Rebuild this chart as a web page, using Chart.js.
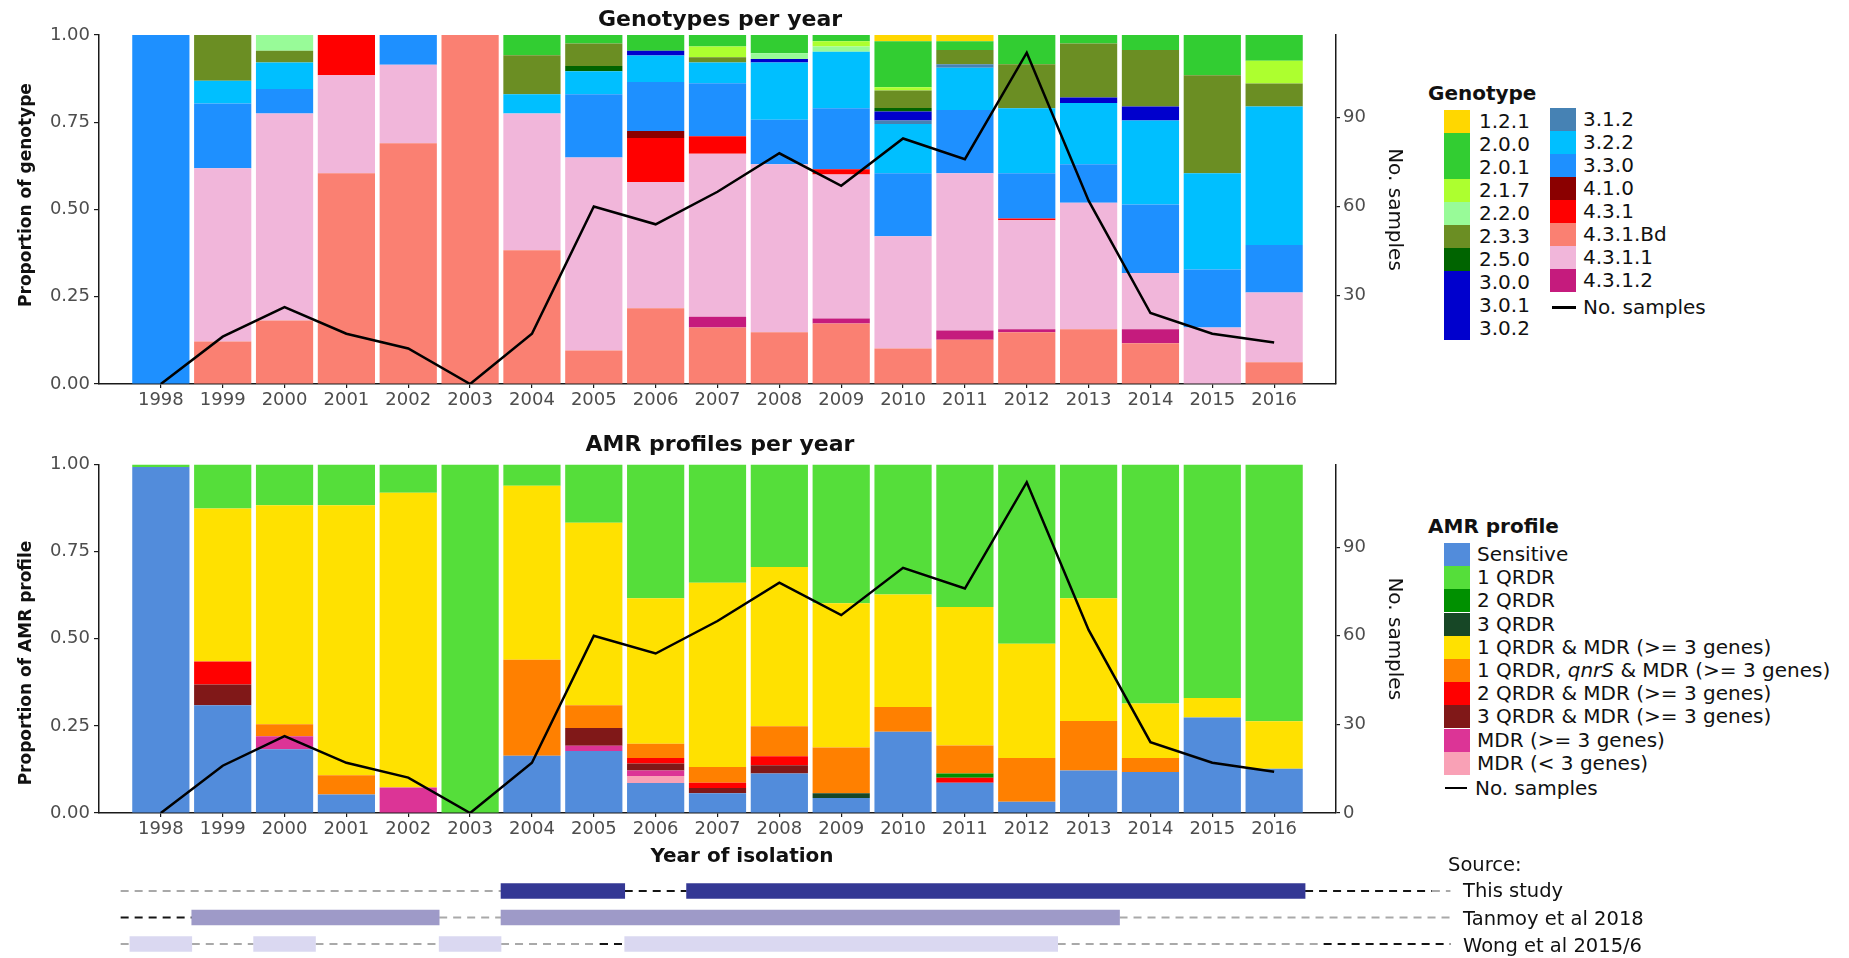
<!DOCTYPE html>
<html>
<head>
<meta charset="utf-8">
<title>Genotypes and AMR profiles per year</title>
<script src="https://cdn.jsdelivr.net/npm/chart.js@4/dist/chart.umd.min.js"></script>
<style>
  html, body { margin: 0; padding: 0; background: #fff; }
  body { width: 1849px; height: 958px; overflow: hidden; position: relative;
         font-family: "DejaVu Sans", sans-serif; color: #111; }
  canvas { position: absolute; left: 0; }
  .txt { position: absolute; white-space: nowrap; }
  .title { font-weight: bold; font-size: 22px; transform: translate(-50%, -50%); }
  .ytitle { font-weight: bold; font-size: 17px; transform: translate(-50%, -50%) rotate(-90deg); }
  .xtitle { font-weight: bold; font-size: 20px; transform: translate(-50%, -50%); }
  .lg { position: absolute; white-space: nowrap; font-size: 20px; height: 23px; line-height: 23px; }
  .lghead { position: absolute; white-space: nowrap; font-size: 20px; font-weight: bold; line-height: 24px; }
  .sw { position: absolute; width: 26px; height: 23px; }
  .ln { position: absolute; background: #000; }
  .src { position: absolute; white-space: nowrap; font-size: 19.5px; line-height: 24px; }
</style>
</head>
<body>

<canvas id="geno" width="1420" height="420" style="top:0"></canvas>
<canvas id="amr" width="1420" height="430" style="top:420px"></canvas>
<canvas id="source" width="1470" height="88" style="top:870px"></canvas>

<div class="txt title" style="left:720px; top:18px">Genotypes per year</div>
<div class="txt title" style="left:720px; top:443px">AMR profiles per year</div>
<div class="txt ytitle" style="left:25px; top:195px">Proportion of genotype</div>
<div class="txt ytitle" style="left:25px; top:663px">Proportion of AMR profile</div>
<div class="txt xtitle" style="left:742px; top:855px">Year of isolation</div>

<script>
// ---- data -------------------------------------------------------------
const years = [1998, 1999, 2000, 2001, 2002, 2003, 2004, 2005, 2006, 2007,
               2008, 2009, 2010, 2011, 2012, 2013, 2014, 2015, 2016];
const sampleCounts = [0, 16, 26, 17, 12, 0, 17, 60, 54, 65, 78, 67, 83, 76, 112, 62, 24, 17, 14];

// genotype proportions per year, listed bottom of the bar first
const g431Bd  = [0, .122, .182, .604, .69, 1, .383, .096, .217, .162, .148, .173, .102, .127, .148, .157, .117, 0, .062];
const g4312   = [0, 0, 0, 0, 0, 0, 0, 0, 0, .031, 0, .015, 0, .026, .009, 0, .04, 0, 0];
const g4311   = [0, .496, .593, .281, .225, 0, .392, .553, .362, .467, .482, .412, .321, .451, .312, .362, .161, .162, .2];
const g431    = [0, 0, 0, .115, 0, 0, 0, 0, .126, .05, 0, .015, 0, 0, .005, 0, 0, 0, 0];
const g410    = [0, 0, 0, 0, 0, 0, 0, 0, .02, 0, 0, 0, 0, 0, 0, 0, 0, 0, 0];
const g330    = [1, .186, .07, 0, .085, 0, 0, .181, .14, .152, .127, .175, .181, .181, .13, .111, .196, .166, .136];
const g322    = [0, .065, .076, 0, 0, 0, .055, .066, .076, .059, .164, .162, .141, .121, .186, .175, .241, .276, .397];
const g312    = [0, 0, 0, 0, 0, 0, 0, 0, 0, 0, 0, 0, .01, .01, 0, 0, 0, 0, 0];
const g300_302 = [0, 0, 0, 0, 0, 0, 0, 0, .014, 0, .01, 0, .026, 0, 0, .016, .04, 0, 0];
const g250    = [0, 0, 0, 0, 0, 0, 0, .015, 0, 0, 0, 0, .01, 0, 0, 0, 0, 0, 0];
const g233    = [0, .131, .034, 0, 0, 0, .112, .065, 0, .015, 0, 0, .05, .041, .126, .155, .162, .281, .066];
const g220    = [0, 0, .045, 0, 0, 0, 0, 0, 0, 0, .017, .015, 0, 0, 0, 0, 0, 0, 0];
const g217    = [0, 0, 0, 0, 0, 0, 0, 0, 0, .031, 0, .015, .009, 0, 0, 0, 0, 0, .065];
const g200_201 = [0, 0, 0, 0, 0, 0, .058, .024, .045, .033, .052, .018, .132, .025, .084, .024, .043, .115, .074];
const g121    = [0, 0, 0, 0, 0, 0, 0, 0, 0, 0, 0, 0, .018, .018, 0, 0, 0, 0, 0];

// AMR profile proportions per year, bottom of the bar first
const aSensitive = [.993, .309, .183, .053, 0, 0, .164, .178, .086, .057, .113, .043, .233, .087, .032, .122, .118, .274, .127];
const aMdrLt3    = [0, 0, 0, 0, 0, 0, 0, 0, .02, 0, 0, 0, 0, 0, 0, 0, 0, 0, 0];
const aMdr3      = [0, 0, .037, 0, .073, 0, 0, .015, .016, 0, 0, 0, 0, 0, 0, 0, 0, 0, 0];
const aQ3Mdr     = [0, .06, 0, 0, 0, 0, 0, .051, .02, .015, .024, 0, 0, 0, 0, 0, 0, 0, 0];
const aQ2Mdr     = [0, .066, 0, 0, 0, 0, 0, 0, .016, .015, .026, 0, 0, .014, 0, 0, 0, 0, 0];
const aQ3        = [0, 0, 0, 0, 0, 0, 0, 0, 0, 0, 0, .014, 0, 0, 0, 0, 0, 0, 0];
const aQ2        = [0, 0, 0, 0, 0, 0, 0, 0, 0, 0, 0, 0, 0, .012, 0, 0, 0, 0, 0];
const aQ1QnrsMdr = [0, 0, .035, .055, 0, 0, .276, .065, .041, .045, .086, .131, .071, .081, .126, .142, .04, 0, 0];
const aQ1Mdr     = [0, .439, .628, .775, .846, 0, .499, .524, .417, .529, .457, .414, .323, .397, .328, .352, .156, .056, .136];
const aQ1        = [.007, .126, .117, .117, .081, 1, .061, .167, .384, .339, .294, .398, .373, .409, .514, .384, .686, .67, .737];

// sources: years covered (bars) and the dashed gaps between them
const sourceRows = ['This study', 'Tanmoy et al 2018', 'Wong et al 2015/6'];
const thisStudySpans = [[2003.5, 2005.5], [2006.5, 2016.5]];
const tanmoySpans    = [[1998.5, 2002.5], [2003.5, 2013.5]];
const wongSpans      = [[1997.5, 1998.5], [1999.5, 2000.5], [2002.5, 2003.5], [2005.5, 2012.5]];
const thisStudyGapsGrey  = [[1997.35, 2003.5], [2018.55, 2018.85]];
const thisStudyGapsBlack = [[2005.5, 2006.5], [2016.5, 2018.55]];
const tanmoyGapsGrey     = [[2002.5, 2003.5], [2013.5, 2018.85]];
const tanmoyGapsBlack    = [[1997.35, 1998.5]];
const wongGapsGrey       = [[1997.35, 1997.5], [1998.5, 1999.5], [2000.5, 2002.5], [2003.5, 2005.1], [2012.5, 2016.8]];
const wongGapsBlack      = [[2005.1, 2005.5], [2016.8, 2018.85]];

// legend entries
const genoLegendLeft  = ['1.2.1', '2.0.0', '2.0.1', '2.1.7', '2.2.0', '2.3.3', '2.5.0', '3.0.0', '3.0.1', '3.0.2'];
const genoLegendRight = ['3.1.2', '3.2.2', '3.3.0', '4.1.0', '4.3.1', '4.3.1.Bd', '4.3.1.1', '4.3.1.2'];
const amrLegend = ['Sensitive', '1 QRDR', '2 QRDR', '3 QRDR', '1 QRDR & MDR (>= 3 genes)',
                   '1 QRDR, qnrS & MDR (>= 3 genes)', '2 QRDR & MDR (>= 3 genes)',
                   '3 QRDR & MDR (>= 3 genes)', 'MDR (>= 3 genes)', 'MDR (< 3 genes)'];

// ---- colours ----------------------------------------------------------
const genoColor = {
  '1.2.1': '#FFD700', '2.0.0': '#32CD32', '2.0.1': '#32CD32', '2.1.7': '#ADFF2F',
  '2.2.0': '#98FB98', '2.3.3': '#6B8E23', '2.5.0': '#006400', '3.0.0': '#0000CD',
  '3.0.1': '#0000CD', '3.0.2': '#0000CD', '3.1.2': '#4682B4', '3.2.2': '#00BFFF',
  '3.3.0': '#1E90FF', '4.1.0': '#8B0000', '4.3.1': '#FF0000', '4.3.1.Bd': '#FA8072',
  '4.3.1.1': '#F1B6DA', '4.3.1.2': '#C51B7D'
};
const amrColor = {
  'Sensitive': '#528CDB', '1 QRDR': '#55DE3A', '2 QRDR': '#009000', '3 QRDR': '#174726',
  '1 QRDR & MDR (>= 3 genes)': '#FFE100', '1 QRDR, qnrS & MDR (>= 3 genes)': '#FF8000',
  '2 QRDR & MDR (>= 3 genes)': '#FF0000', '3 QRDR & MDR (>= 3 genes)': '#801818',
  'MDR (>= 3 genes)': '#DC3496', 'MDR (< 3 genes)': '#F9A1B6'
};

const genoStack = [
  ['4.3.1.Bd', g431Bd, '4.3.1.Bd'], ['4.3.1.2', g4312, '4.3.1.2'], ['4.3.1.1', g4311, '4.3.1.1'],
  ['4.3.1', g431, '4.3.1'], ['4.1.0', g410, '4.1.0'], ['3.3.0', g330, '3.3.0'],
  ['3.2.2', g322, '3.2.2'], ['3.1.2', g312, '3.1.2'], ['3.0.0-3.0.2', g300_302, '3.0.0'],
  ['2.5.0', g250, '2.5.0'], ['2.3.3', g233, '2.3.3'], ['2.2.0', g220, '2.2.0'],
  ['2.1.7', g217, '2.1.7'], ['2.0.0-2.0.1', g200_201, '2.0.0'], ['1.2.1', g121, '1.2.1']
].map(([label, values, key]) => ({label, values, color: genoColor[key]}));

const amrStack = [
  ['Sensitive', aSensitive], ['MDR (< 3 genes)', aMdrLt3], ['MDR (>= 3 genes)', aMdr3],
  ['3 QRDR & MDR (>= 3 genes)', aQ3Mdr], ['2 QRDR & MDR (>= 3 genes)', aQ2Mdr],
  ['3 QRDR', aQ3], ['2 QRDR', aQ2], ['1 QRDR, qnrS & MDR (>= 3 genes)', aQ1QnrsMdr],
  ['1 QRDR & MDR (>= 3 genes)', aQ1Mdr], ['1 QRDR', aQ1]
].map(([label, values]) => ({label, values, color: amrColor[label]}));

// ---- charts -----------------------------------------------------------
Chart.defaults.font.family = '"DejaVu Sans", sans-serif';
const TICK = {color: '#4d4d4d', font: {size: 18}};
const AXIS = {display: true, color: '#1a1a1a', width: 1.5};

function stackChart(canvasId, stack, padTop, canvasH, plotBottom, y2Ticks) {
  const datasets = stack.map(s => ({
    type: 'bar', label: s.label,
    data: years.map((yr, i) => ({x: yr, y: s.values[i]})),
    backgroundColor: s.color, borderWidth: 0,
    categoryPercentage: 1, barPercentage: 0.925,
    yAxisID: 'y', order: 1
  }));
  datasets.push({
    type: 'line', label: 'No. samples',
    data: years.map((yr, i) => ({x: yr, y: sampleCounts[i]})),
    borderColor: '#000', borderWidth: 2.5, pointRadius: 0, tension: 0,
    yAxisID: 'y2', order: 0
  });

  return new Chart(document.getElementById(canvasId), {
    data: {datasets},
    options: {
      responsive: false, animation: false, devicePixelRatio: 1,
      layout: {padding: {top: padTop, left: 0, right: 0, bottom: 0}},
      plugins: {legend: {display: false}, tooltip: {enabled: false}},
      scales: {
        x: {
          type: 'linear', min: 1997, max: 2017, stacked: true, offset: false,
          afterBuildTicks: s => { s.ticks = years.map(v => ({value: v})); },
          afterFit: s => { s.height = canvasH - plotBottom; },
          ticks: Object.assign({autoSkip: false, maxRotation: 0, padding: 2,
                                callback: v => String(v)}, TICK),
          grid: {display: true, drawOnChartArea: false, offset: false, tickLength: 4,
                 color: '#1a1a1a', lineWidth: 1.2},
          border: AXIS
        },
        y: {
          position: 'left', min: 0, max: 1, stacked: true,
          afterFit: s => { s.width = 99; },
          ticks: Object.assign({stepSize: 0.25, padding: 4, callback: v => v.toFixed(2)}, TICK),
          grid: {display: true, drawOnChartArea: false, tickLength: 5, color: '#1a1a1a', lineWidth: 1.2},
          border: AXIS
        },
        y2: {
          position: 'right', min: 0, max: 118,
          afterBuildTicks: s => { s.ticks = y2Ticks.map(v => ({value: v})); },
          afterFit: s => { s.width = 1420 - 1336; },
          ticks: Object.assign({padding: 3}, TICK),
          grid: {display: true, drawOnChartArea: false, tickLength: 4, color: '#1a1a1a', lineWidth: 1.2},
          border: AXIS,
          title: {display: true, text: 'No. samples', color: '#111',
                  font: {size: 20}, padding: {top: 14, bottom: 0}}
        }
      }
    }
  });
}

stackChart('geno', genoStack, 35, 420, 384, [30, 60, 90]);
stackChart('amr', amrStack, 44.5, 430, 393, [0, 30, 60, 90]);

// source coverage strip
const srcDatasets = [];
function addGaps(row, spans, color) {
  spans.forEach(([a, b]) => srcDatasets.push({
    type: 'line', data: [{x: a, y: row}, {x: b, y: row}],
    borderColor: color, borderWidth: 2, borderDash: [8, 6], pointRadius: 0,
    clip: false, order: 2
  }));
}
function addSpans(row, spans, color) {
  srcDatasets.push({
    type: 'bar', indexAxis: 'y', grouped: false,
    data: spans.map(iv => ({x: iv, y: row})),
    backgroundColor: color, borderWidth: 0, barThickness: 15, clip: false, order: 1
  });
}
addGaps(sourceRows[0], thisStudyGapsGrey, '#a9a9a9');
addGaps(sourceRows[0], thisStudyGapsBlack, '#151515');
addGaps(sourceRows[1], tanmoyGapsGrey, '#a9a9a9');
addGaps(sourceRows[1], tanmoyGapsBlack, '#151515');
addGaps(sourceRows[2], wongGapsGrey, '#a9a9a9');
addGaps(sourceRows[2], wongGapsBlack, '#151515');
addSpans(sourceRows[0], thisStudySpans, '#343894');
addSpans(sourceRows[1], tanmoySpans, '#9e9ac8');
addSpans(sourceRows[2], wongSpans, '#dad8f1');

new Chart(document.getElementById('source'), {
  data: {labels: sourceRows, datasets: srcDatasets},
  options: {
    responsive: false, animation: false, devicePixelRatio: 1,
    layout: {padding: {top: 21, bottom: 14, left: 99, right: 10.3}},
    plugins: {legend: {display: false}, tooltip: {enabled: false}},
    scales: {
      x: {type: 'linear', min: 1997, max: 2019, display: false},
      y: {type: 'category', labels: sourceRows, offset: false, display: false}
    }
  }
});

// ---- legends and labels (HTML) ---------------------------------------
function el(cls, css, text) {
  const d = document.createElement('div');
  d.className = cls;
  Object.assign(d.style, css);
  if (text !== undefined) d.textContent = text;
  document.body.appendChild(d);
  return d;
}

el('lghead', {left: '1428px', top: '81px'}, 'Genotype');
genoLegendLeft.forEach((lab, i) => {
  const top = 110 + i * 23;
  el('sw', {left: '1444px', top: top + 'px', background: genoColor[lab]});
  el('lg', {left: '1479px', top: top + 'px'}, lab);
});
genoLegendRight.forEach((lab, i) => {
  const top = 108 + i * 23;
  el('sw', {left: '1550px', top: top + 'px', background: genoColor[lab]});
  el('lg', {left: '1583px', top: top + 'px'}, lab);
});
el('ln', {left: '1552px', top: '306px', width: '24px', height: '3px'});
el('lg', {left: '1583px', top: '296px'}, 'No. samples');

el('lghead', {left: '1428px', top: '514px'}, 'AMR profile');
amrLegend.forEach((lab, i) => {
  const top = 543 + i * 23.2;
  el('sw', {left: '1444px', top: top + 'px', background: amrColor[lab]});
  const row = el('lg', {left: '1477px', top: top + 'px'});
  const parts = lab.split('qnrS');
  parts.forEach((p, k) => {
    row.appendChild(document.createTextNode(p));
    if (k < parts.length - 1) {
      const it = document.createElement('i');
      it.textContent = 'qnrS';
      row.appendChild(it);
    }
  });
});
el('ln', {left: '1445px', top: '787px', width: '22px', height: '2px'});
el('lg', {left: '1475px', top: '777px'}, 'No. samples');

el('src', {left: '1448px', top: '853px'}, 'Source:');
[891, 919, 946].forEach((cy, i) => el('src', {left: '1463px', top: (cy - 12) + 'px'}, sourceRows[i]));
</script>
</body>
</html>
